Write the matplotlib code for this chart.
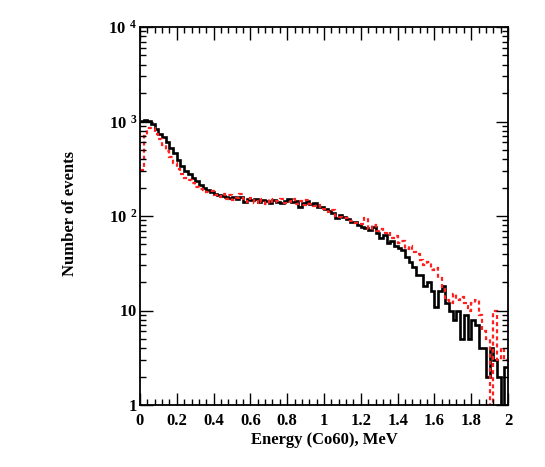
import numpy as np
import matplotlib
matplotlib.use("Agg")
import matplotlib.pyplot as plt
from matplotlib.ticker import FixedLocator, FixedFormatter, MultipleLocator

plt.rcParams['font.family'] = ['Liberation Serif', 'DejaVu Serif']
plt.rcParams['font.weight'] = 'bold'
plt.rcParams['mathtext.fontset'] = 'custom'
plt.rcParams['mathtext.rm'] = 'Liberation Serif:bold'
plt.rcParams['mathtext.bf'] = 'Liberation Serif:bold'
plt.rcParams['mathtext.it'] = 'Liberation Serif:bold'

# Histogram: 100 bins from 0 to 2 MeV
bin_edges = np.round(np.arange(101) * 0.02, 2)

black_counts = [
    1020, 1040, 1010, 950, 830, 740, 680, 600, 530, 460,
    390, 335, 300, 275, 255, 232, 213, 200, 188, 180,
    172, 166, 162, 160, 156, 157, 152, 160, 142, 152,
    146, 150, 140, 148, 143, 136, 146, 141, 137, 144,
    150, 140, 143, 124, 138, 145, 134, 138, 124, 126,
    118, 112, 107, 95, 103, 98, 92, 86, 87, 80,
    77, 74, 71, 76, 66, 59, 63, 52, 54, 48,
    46, 44, 37, 33, 29, 24, 24, 18, 20, 16,
    11, 16, 18, 12, 10, 8, 10, 5, 9, 5,
    8, 7, 4, 4, 2, 4, 3, 2, 1, 2.5,
]

red_counts = [
    310, 700, 850, 860, 740, 650, 570, 490, 425, 365,
    315, 280, 255, 240, 222, 205, 195, 188, 180, 185,
    168, 160, 170, 150, 165, 148, 155, 170, 150, 140,
    155, 138, 150, 142, 135, 150, 140, 145, 150, 136,
    140, 150, 135, 145, 130, 148, 135, 128, 132, 120,
    118, 110, 115, 100, 98, 95, 95, 88, 85, 83,
    82, 95, 72, 80, 70, 72, 66, 68, 58, 62,
    52, 55, 45, 48, 42, 40, 34, 30, 33, 27,
    28, 22, 17, 13, 12, 15, 13, 14, 12, 10,
    12, 13, 9, 6, 5, 1, 10, 3, 4, 3,
]

x_ticks = [0, 0.2, 0.4, 0.6, 0.8, 1.0, 1.2, 1.4, 1.6, 1.8, 2.0]
x_tick_labels = ['0', '0.2', '0.4', '0.6', '0.8', '1', '1.2', '1.4', '1.6', '1.8', '2']
y_ticks = [1, 10, 100, 1000, 10000]

# power labels with a gap before the exponent; plain labels padded so that
# the "10" parts line up
pad_str = r'\hspace{0.66}'
gap_str = r'\hspace{0.45}'
try:
    from matplotlib.mathtext import MathTextParser
    MathTextParser('path').parse(r'$1' + pad_str + '$')
    MathTextParser('path').parse(r'$10^{' + gap_str + '2}$')
except Exception:
    pad_str = r'\ \ '
    gap_str = r'\ '
y_tick_labels = [r'$1' + pad_str + '$', r'$10' + pad_str + '$',
                 r'$10^{' + gap_str + '2}$', r'$10^{' + gap_str + '3}$',
                 r'$10^{' + gap_str + '4}$']

fig = plt.figure(figsize=(5.45, 4.67), dpi=100)
ax = fig.add_axes([140/545, 1-405/467, 368/545, 378/467])

ax.stairs(black_counts, bin_edges, baseline=None, color='black', lw=1.9)
ax.stairs(red_counts, bin_edges, baseline=None, color='#ff2020', lw=1.6,
          linestyle=(0, (1.8, 1.4)))

ax.set_yscale('log')
ax.set_xlim(0, 2)
ax.set_ylim(1, 10000)

ax.xaxis.set_major_locator(FixedLocator(x_ticks))
ax.xaxis.set_major_formatter(FixedFormatter(x_tick_labels))
ax.xaxis.set_minor_locator(MultipleLocator(0.04))
ax.yaxis.set_major_locator(FixedLocator(y_ticks))
ax.yaxis.set_major_formatter(FixedFormatter(y_tick_labels))
ax.yaxis.set_minor_locator(matplotlib.ticker.LogLocator(base=10, subs=np.arange(2, 10)))
ax.yaxis.set_minor_formatter(matplotlib.ticker.NullFormatter())

ax.tick_params(which='both', direction='in', top=True, right=True,
               labelsize=12, width=1.0)
ax.tick_params(which='major', length=9)
ax.tick_params(which='minor', length=4.5)
ax.tick_params(axis='x', which='major', pad=6)
ax.tick_params(axis='y', which='major', pad=2)
for lab in ax.get_xticklabels() + ax.get_yticklabels():
    lab.set_fontweight('bold')

for sp in ax.spines.values():
    sp.set_linewidth(1.3)

ax.set_xlabel('Energy (Co60), MeV', fontsize=12, fontweight='bold')
ax.xaxis.set_label_coords(0.5, -(432-405)/378)
ax.set_ylabel('Number of events', fontsize=12, fontweight='bold')
ax.yaxis.set_label_coords(-(140-78)/368, (405-213)/378)

fig.savefig('out.png', dpi=100)
